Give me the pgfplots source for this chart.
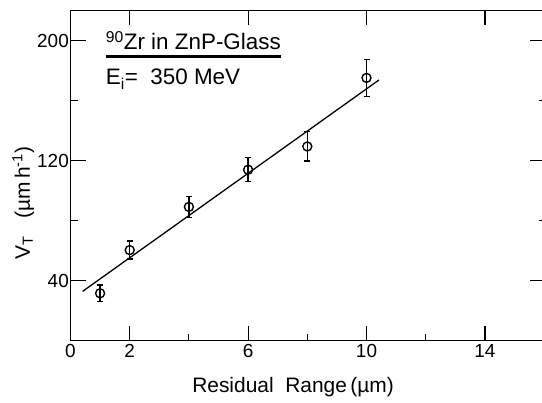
\documentclass[border=0pt]{standalone}
\usepackage{fontspec}
\setmainfont{Liberation Sans}
\usepackage{pgfplots}
\pgfplotsset{compat=1.18}
\begin{document}
\begin{tikzpicture}
\useasboundingbox (0,0) rectangle (542bp,403bp);
\begin{axis}[
  at={(70.5bp,62.3bp)}, anchor=south west,
  scale only axis, width=473.6bp, height=330bp,
  xmin=0, xmax=16, ymin=0, ymax=220,
  axis line style={line width=1.5pt},
  xtick={0,2,6,10,14}, minor xtick={4,8,12},
  ytick={40,120,200}, minor ytick={80,160},
  xtick pos=left, ytick pos=left,
  tick align=inside,
  major tick length=15bp, minor tick length=7bp,
  every tick/.style={black, line width=1.2pt},
  /pgf/number format/assume math mode=true,
  tick label style={font=\fontsize{19}{19}\selectfont},
  yticklabel style={inner sep=1.5bp},
  xlabel={Residual\ \ Range\,(µm)},
  ylabel={V\textsubscript{T}\ \ \ (µm\,h\textsuperscript{-1})},
  label style={font=\fontsize{21}{21}\selectfont},
  xlabel style={at={(rel axis cs:0.47,-0.142)}, anchor=center},
  ylabel style={at={(rel axis cs:-0.1,0.417)}, anchor=center},
]
\addplot[black, line width=1.3pt] coordinates {(0.41,32.9) (10.42,173.8)};
\addplot[black, only marks, mark=o, mark size=4.5bp, line width=1.4pt,
  error bars/.cd, y dir=both, y explicit,
  error bar style={line width=1.4pt},
  error mark options={rotate=90, mark size=3bp, line width=1.4pt}]
  coordinates {
    (1,31.6) +- (0,5.5)
    (2,60.4) +- (0,6)
    (4,89.2) +- (0,7)
    (6,114) +- (0,8)
    (8,129.5) +- (0,9.8)
    (10,175.2) +- (0,12.3)
  };
\node[anchor=base west, inner sep=0pt, font=\fontsize{22.5}{22.5}\selectfont] at (axis cs:1.19,193.8) {\textsuperscript{90}Zr in ZnP-Glass};
\draw[line width=2.6bp] (axis cs:1.19,189.3) -- (axis cs:7.12,189.3);
\node[anchor=base west, inner sep=0pt, font=\fontsize{22.5}{22.5}\selectfont] at (axis cs:1.19,170.5) {E\textsubscript{i}=\ \ 350 MeV};
\end{axis}
\begin{axis}[
  at={(70.5bp,62.3bp)}, anchor=south west,
  scale only axis, width=473.6bp, height=330bp,
  xmin=0, xmax=16, ymin=0, ymax=220,
  axis line style={line width=1.5pt},
  xtick={2,6,10,14}, ytick={40,120,200}, minor ytick={80,160},
  xtick pos=right, ytick pos=right,
  xticklabels={}, yticklabels={},
  tick align=inside,
  major tick length=14bp, minor tick length=5bp,
  every tick/.style={black, line width=1.2pt},
]
\end{axis}
\end{tikzpicture}
\end{document}
